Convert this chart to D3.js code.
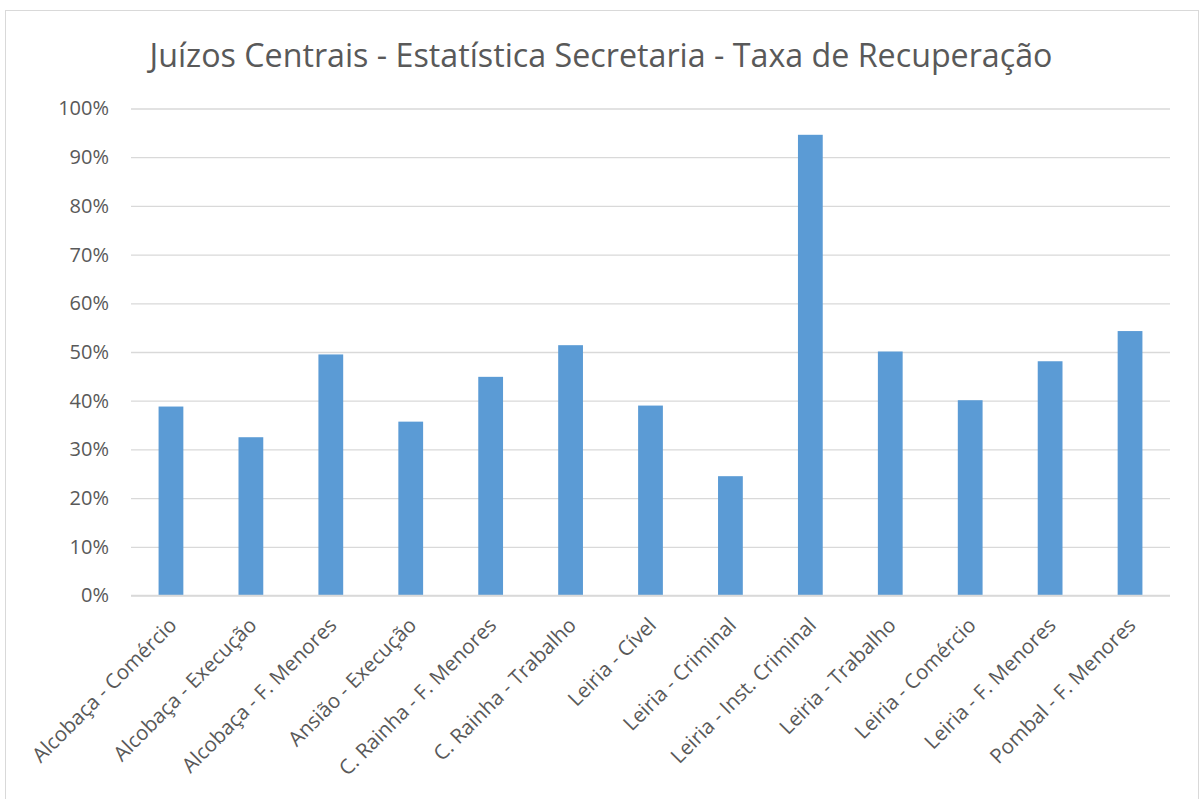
<!DOCTYPE html>
<html>
<head>
<meta charset="utf-8">
<script src="https://cdn.jsdelivr.net/npm/d3@7"></script>
<style>
html,body{margin:0;padding:0;background:#fff;}
svg{display:block;}
</style>
</head>
<body>
<script>
const categories = [
  "Alcobaça - Comércio",
  "Alcobaça - Execução",
  "Alcobaça - F. Menores",
  "Ansião - Execução",
  "C. Rainha - F. Menores",
  "C. Rainha - Trabalho",
  "Leiria - Cível",
  "Leiria - Criminal",
  "Leiria - Inst. Criminal",
  "Leiria - Trabalho",
  "Leiria - Comércio",
  "Leiria - F. Menores",
  "Pombal - F. Menores"
];
const values = [0.388, 0.325, 0.495, 0.357, 0.449, 0.514, 0.390, 0.245, 0.946, 0.501, 0.401, 0.481, 0.543];
const yTicks = [0, 0.1, 0.2, 0.3, 0.4, 0.5, 0.6, 0.7, 0.8, 0.9, 1.0];
const title = "Juízos Centrais - Estatística Secretaria - Taxa de Recuperação";

const W = 1200, H = 799;
const svg = d3.select("body").append("svg").attr("width", W).attr("height", H);
const font = "Open Sans, 'Noto Sans', sans-serif";
const textColor = "#595959";

svg.append("rect").attr("x", 5.5).attr("y", 10.5).attr("width", 1193).attr("height", 800)
  .attr("fill", "#fff").attr("stroke", "#D9D9D9").attr("stroke-width", 1);

const mLeft = 131, mRight = 1170, mTop = 108.5, mBottom = 595.5;
const x = d3.scaleBand().domain(categories).range([mLeft, mRight]).paddingInner(0.69).paddingOuter(0.345);
const y = d3.scaleLinear().domain([0, 1]).range([mBottom, mTop]);

// gridlines
const yAxis = d3.axisLeft(y).tickValues(yTicks).tickFormat(d3.format(".0%")).tickSize(-(mRight - mLeft)).tickPadding(22);
const gy = svg.append("g").attr("transform", `translate(${mLeft},0)`).call(yAxis);
gy.select(".domain").remove();
gy.selectAll(".tick line").attr("stroke", "#D9D9D9").attr("stroke-width", 1.3);
gy.selectAll(".tick text").attr("fill", textColor).style("font-family", font).style("font-size", "20px");

// bars
svg.append("g").selectAll("rect").data(values).join("rect")
  .attr("x", (d, i) => x(categories[i]))
  .attr("y", d => y(d))
  .attr("width", x.bandwidth())
  .attr("height", d => y(0) - y(d))
  .attr("fill", "#5B9BD5");

// x axis line
svg.append("line").attr("x1", mLeft).attr("x2", mRight).attr("y1", mBottom).attr("y2", mBottom)
  .attr("stroke", "#D9D9D9").attr("stroke-width", 1.3);

// x labels
const xAxis = d3.axisBottom(x).tickSize(0).tickPadding(0);
const gx = svg.append("g").attr("transform", `translate(0,${mBottom})`).call(xAxis);
gx.select(".domain").remove();
gx.selectAll(".tick text")
  .attr("fill", textColor).style("font-family", font).style("font-size", "20.5px")
  .attr("text-anchor", "end")
  .attr("dy", null)
  .attr("y", 0)
  .attr("transform", "translate(7,31) rotate(-45)");

// title
svg.append("text").attr("x", 601).attr("y", 67).attr("text-anchor", "middle")
  .attr("fill", textColor).style("font-family", font).style("font-size", "32px")
  .attr("textLength", 903).attr("lengthAdjust", "spacingAndGlyphs")
  .text(title);
</script>
</body>
</html>
